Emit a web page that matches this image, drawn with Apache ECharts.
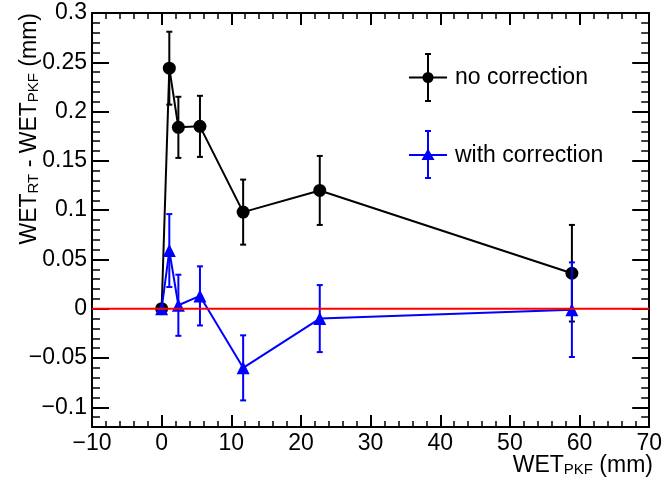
<!DOCTYPE html>
<html>
<head>
<meta charset="utf-8">
<script src="https://cdn.jsdelivr.net/npm/echarts@6/dist/echarts.min.js"></script>
<style>
  html, body { margin: 0; padding: 0; background: #fff; }
  #main { width: 665px; height: 479px; }
</style>
</head>
<body>
<div id="main"></div>
<script>
// WET_PKF positions (mm)
var wetPkf = [0, 1.1, 2.4, 5.5, 11.7, 22.7, 58.9];
// WET_RT - WET_PKF, no correction
var noCorr = [0, 0.244, 0.184, 0.185, 0.098, 0.120, 0.036];
var noCorrErr = [0, 0.037, 0.031, 0.031, 0.033, 0.035, 0.049];
// WET_RT - WET_PKF, with correction
var withCorr = [0, 0.059, 0.0035, 0.013, -0.060, -0.010, -0.001];
var withCorrErr = [0, 0.037, 0.031, 0.030, 0.033, 0.034, 0.048];
// reference line
var zeroLine = [[-10, 0], [70, 0]];
// y tick values
var yMajor = [-0.1, -0.05, 0, 0.05, 0.1, 0.15, 0.2, 0.25, 0.3];

var FONT = 'Liberation Sans';
var chart = echarts.init(document.getElementById('main'));

function pairs(xs, ys, es) {
  return xs.map(function (x, i) { return es ? [x, ys[i], es[i]] : [x, ys[i]]; });
}

// vertical error bars with small caps
function errBars(color) {
  return function (params, api) {
    var x = api.value(0), y = api.value(1), e = api.value(2);
    if (!e) return;
    var t = api.coord([x, y + e]), b = api.coord([x, y - e]);
    var st = { stroke: color, lineWidth: 2 };
    return {
      type: 'group',
      children: [
        { type: 'line', shape: { x1: t[0], y1: t[1], x2: b[0], y2: b[1] }, style: st },
        { type: 'line', shape: { x1: t[0] - 3, y1: t[1], x2: t[0] + 3, y2: t[1] }, style: st },
        { type: 'line', shape: { x1: b[0] - 3, y1: b[1], x2: b[0] + 3, y2: b[1] }, style: st }
      ]
    };
  };
}

function minus(v) { return String(v).replace('-', '\u2212'); }

var xBase = {
  type: 'value', min: -10, max: 70, interval: 10,
  axisLine: { show: true, onZero: false, lineStyle: { color: '#000', width: 2 } },
  axisTick: { show: true, inside: true, length: 12, lineStyle: { color: '#000', width: 2 } },
  minorTick: { show: true, splitNumber: 5, length: 6, lineStyle: { color: '#000', width: 1.5 } },
  splitLine: { show: false }
};

function yAxisDef(pos, major, labels) {
  var ax = {
    type: 'value', min: -0.12, max: 0.3, position: pos,
    splitLine: { show: false },
    axisLine: { show: !major, onZero: false, lineStyle: { color: '#000', width: 2 } },
    axisLabel: { show: false }
  };
  if (major) {
    ax.axisTick = { show: true, inside: true, length: 17, customValues: yMajor, lineStyle: { color: '#000', width: 2 } };
  } else {
    ax.interval = 0.01;
    ax.axisTick = { show: true, inside: true, length: 8, lineStyle: { color: '#000', width: 1.5 } };
  }
  if (labels) {
    ax.axisLabel = {
      show: true, customValues: yMajor, margin: 5, color: '#000',
      fontFamily: FONT, fontSize: 23, formatter: minus
    };
  }
  return ax;
}

var option = {
  backgroundColor: '#ffffff',
  animation: false,
  grid: { left: 92, right: 12, top: 13, bottom: 52, containLabel: false },
  xAxis: [
    Object.assign({}, xBase, {
      position: 'bottom',
      axisLabel: { show: true, margin: 5, color: '#000', fontFamily: FONT, fontSize: 23, formatter: minus }
    }),
    Object.assign({}, xBase, { position: 'top', axisLabel: { show: false } })
  ],
  yAxis: [
    yAxisDef('left', false, true),
    yAxisDef('left', true, false),
    yAxisDef('right', false, false),
    yAxisDef('right', true, false)
  ],
  series: [
    {
      type: 'custom', name: 'no correction err', renderItem: errBars('#000'),
      data: pairs(wetPkf, noCorr, noCorrErr), z: 2
    },
    {
      type: 'line', name: 'no correction', data: pairs(wetPkf, noCorr),
      symbol: 'circle', symbolSize: 13,
      itemStyle: { color: '#000' }, lineStyle: { color: '#000', width: 2 }, z: 3
    },
    {
      type: 'custom', name: 'with correction err', renderItem: errBars('#0000ff'),
      data: pairs(wetPkf, withCorr, withCorrErr), z: 4
    },
    {
      type: 'line', name: 'with correction', data: pairs(wetPkf, withCorr),
      symbol: 'triangle', symbolSize: 13,
      itemStyle: { color: '#0000ff' }, lineStyle: { color: '#0000ff', width: 2 }, z: 5
    },
    {
      type: 'line', name: 'zero', data: zeroLine, showSymbol: false, symbol: 'none',
      lineStyle: { color: '#ff0000', width: 2 }, z: 6
    }
  ],
  graphic: [
    // legend: no correction
    { type: 'line', shape: { x1: 428, y1: 54, x2: 428, y2: 101 }, style: { stroke: '#000', lineWidth: 2 } },
    { type: 'line', shape: { x1: 425, y1: 54, x2: 431, y2: 54 }, style: { stroke: '#000', lineWidth: 2 } },
    { type: 'line', shape: { x1: 425, y1: 101, x2: 431, y2: 101 }, style: { stroke: '#000', lineWidth: 2 } },
    { type: 'line', shape: { x1: 409, y1: 77.5, x2: 447, y2: 77.5 }, style: { stroke: '#000', lineWidth: 2 } },
    { type: 'circle', shape: { cx: 428, cy: 77.5, r: 5.5 }, style: { fill: '#000' } },
    { type: 'text', x: 455, y: 78, style: { text: 'no correction', fill: '#000', fontFamily: FONT, fontSize: 23, verticalAlign: 'middle' } },
    // legend: with correction
    { type: 'line', shape: { x1: 428, y1: 131, x2: 428, y2: 178 }, style: { stroke: '#0000ff', lineWidth: 2 } },
    { type: 'line', shape: { x1: 425, y1: 131, x2: 431, y2: 131 }, style: { stroke: '#0000ff', lineWidth: 2 } },
    { type: 'line', shape: { x1: 425, y1: 178, x2: 431, y2: 178 }, style: { stroke: '#0000ff', lineWidth: 2 } },
    { type: 'line', shape: { x1: 409, y1: 155, x2: 447, y2: 155 }, style: { stroke: '#0000ff', lineWidth: 2 } },
    { type: 'polygon', shape: { points: [[428, 148.5], [421.5, 160], [434.5, 160]] }, style: { fill: '#0000ff' } },
    { type: 'text', x: 455, y: 156, style: { text: 'with correction', fill: '#000', fontFamily: FONT, fontSize: 23, verticalAlign: 'middle' } },
    // axis titles
    {
      type: 'text', x: 653, y: 466,
      style: {
        text: '{m|WET}{s|PKF}{m| (mm)}', align: 'right', verticalAlign: 'middle', fill: '#000',
        rich: {
          m: { fontFamily: FONT, fontSize: 23, fill: '#000' },
          s: { fontFamily: FONT, fontSize: 15, fill: '#000', verticalAlign: 'bottom', padding: [6, 0, 0, 0] }
        }
      }
    },
    {
      type: 'text', x: 30, y: 13, rotation: Math.PI / 2,
      style: {
        text: '{m|WET}{s|RT}{m| - WET}{s|PKF}{m| (mm)}', align: 'right', verticalAlign: 'middle', fill: '#000',
        rich: {
          m: { fontFamily: FONT, fontSize: 23, fill: '#000' },
          s: { fontFamily: FONT, fontSize: 15, fill: '#000', verticalAlign: 'bottom', padding: [6, 0, 0, 0] }
        }
      }
    }
  ]
};

chart.setOption(option);
</script>
</body>
</html>
